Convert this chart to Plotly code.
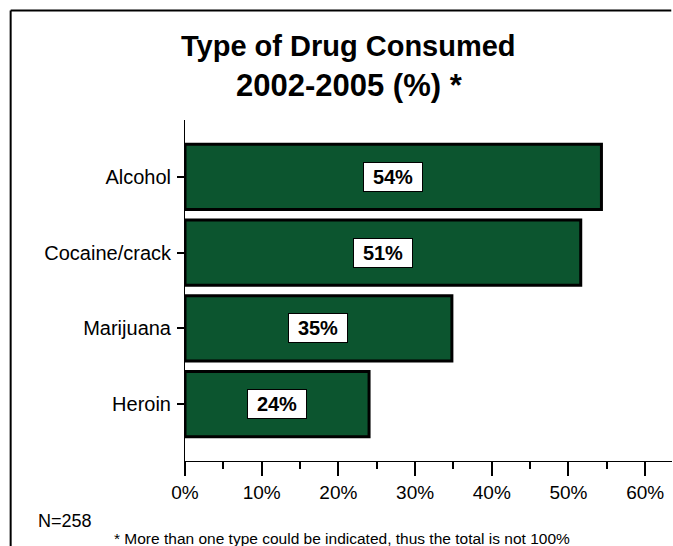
import plotly.graph_objects as go

categories = ["Alcohol", "Cocaine/crack", "Marijuana", "Heroin"]
values = [54.3, 51.6, 34.8, 24.0]
value_labels = ["54%", "51%", "35%", "24%"]
x_ticks = [0, 10, 20, 30, 40, 50, 60]
title_lines = ["Type of Drug Consumed", "2002-2005 (%) *"]
n_note = "N=258"
footnote = "* More than one type could be indicated, thus the total is not 100%"

FONT = "Liberation Sans, Arial, sans-serif"

fig = go.Figure()
fig.add_trace(go.Bar(
    x=values, y=categories, orientation="h",
    marker=dict(color="#0c552f", line=dict(color="black", width=3)),
    hoverinfo="skip",
))

for cat, v, lab in zip(categories, values, value_labels):
    fig.add_annotation(
        x=v / 2, y=cat, xref="x", yref="y", text="<b>%s</b>" % lab,
        showarrow=False, bgcolor="white", bordercolor="black", borderwidth=1,
        width=58, height=28, borderpad=0,
        font=dict(family=FONT, size=20, color="black"),
    )

fig.add_annotation(x=0.335, y=1.217, xref="paper", yref="paper", text="<b>%s</b>" % title_lines[0],
                   showarrow=False, font=dict(family=FONT, size=29, color="black"),
                   xanchor="center", yanchor="middle")
fig.add_annotation(x=0.338, y=1.10, xref="paper", yref="paper", text="<b>%s</b>" % title_lines[1],
                   showarrow=False, font=dict(family=FONT, size=31, color="black"),
                   xanchor="center", yanchor="middle")
fig.add_annotation(x=-0.306, y=-0.176, xref="paper", yref="paper", text=n_note,
                   showarrow=False, font=dict(family=FONT, size=18, color="black"),
                   xanchor="left", yanchor="middle")
fig.add_annotation(x=-0.15, y=-0.226, xref="paper", yref="paper", text=footnote,
                   showarrow=False, font=dict(family=FONT, size=15.5, color="black"),
                   xanchor="left", yanchor="middle")

# outer frame (left and top edges visible; right and bottom fall outside the picture)
fig.add_shape(type="line", xref="paper", yref="paper", x0=-0.358, x1=-0.358, y0=-0.4, y1=1.321,
              line=dict(color="black", width=2), layer="above")
fig.add_shape(type="line", xref="paper", yref="paper", x0=-0.358, x1=0.9985, y0=1.321, y1=1.321,
              line=dict(color="black", width=2), layer="above")

fig.update_layout(
    width=673, height=546,
    margin=dict(l=185, r=1, t=120, b=85),
    paper_bgcolor="white", plot_bgcolor="white",
    showlegend=False, bargap=0.14,
    font=dict(family=FONT, size=20, color="black"),
)
fig.update_xaxes(
    range=[0, 63.5], tickvals=x_ticks, ticktext=["%d%%" % t for t in x_ticks],
    ticks="outside", ticklen=14, tickwidth=2, tickcolor="black",
    showline=True, linecolor="black", linewidth=1, showgrid=False, zeroline=False,
    minor=dict(dtick=5, tick0=0, ticks="outside", ticklen=7, tickwidth=2, tickcolor="black"),
    tickfont=dict(family=FONT, size=19),
)
fig.update_yaxes(
    categoryorder="array", categoryarray=categories, autorange=False, range=[3.75, -0.75],
    ticks="outside", ticklen=7, tickwidth=2, tickcolor="black",
    showline=True, linecolor="black", linewidth=1, showgrid=False, zeroline=False,
    tickfont=dict(family=FONT, size=20), ticklabelstandoff=2,
)

fig.write_html("out.html", config={"displayModeBar": False},
               post_script="document.documentElement.style.overflow='hidden';document.body.style.margin='0';document.body.style.overflow='hidden';")
